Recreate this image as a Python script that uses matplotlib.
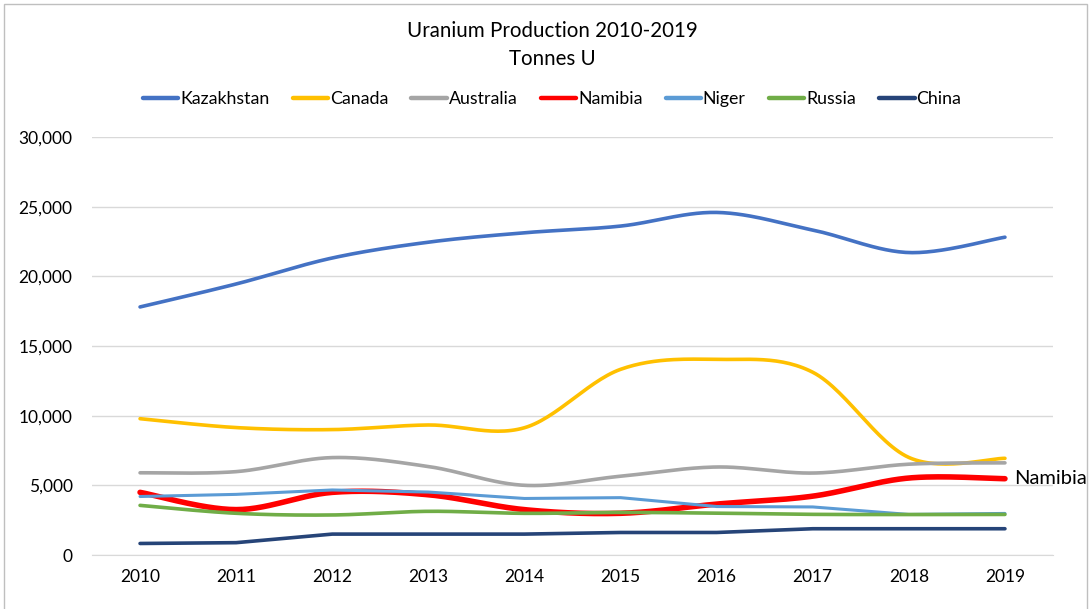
import matplotlib.pyplot as plt
import numpy as np
from matplotlib.patches import Rectangle

years = [2010, 2011, 2012, 2013, 2014, 2015, 2016, 2017, 2018, 2019]

kazakhstan = [17803, 19451, 21317, 22451, 23127, 23607, 24586, 23321, 21705, 22808]
canada = [9783, 9145, 8999, 9331, 9134, 13325, 14039, 13116, 7001, 6938]
australia = [5900, 5983, 6991, 6350, 5001, 5654, 6315, 5882, 6517, 6613]
namibia = [4496, 3258, 4495, 4323, 3255, 2993, 3654, 4224, 5525, 5476]
niger = [4198, 4351, 4667, 4518, 4057, 4116, 3479, 3449, 2911, 2983]
russia = [3562, 2993, 2872, 3135, 2990, 3055, 3004, 2917, 2904, 2911]
china = [827, 885, 1500, 1500, 1500, 1616, 1616, 1885, 1885, 1885]

series = [
    ("Kazakhstan", kazakhstan, "#4472C4", 2.6, True),
    ("Canada", canada, "#FFC000", 2.6, True),
    ("Australia", australia, "#A5A5A5", 2.6, True),
    ("Namibia", namibia, "#FF0000", 4.0, True),
    ("Niger", niger, "#5B9BD5", 2.2, False),
    ("Russia", russia, "#70AD47", 2.6, True),
    ("China", china, "#264478", 2.6, False),
]


def smooth(x, y, n=30):
    # Excel-style smoothed line: cubic Bezier segments, Catmull-Rom control points
    x = np.asarray(x, float)
    y = np.asarray(y, float)
    px = np.concatenate([[x[0]], x, [x[-1]]])
    py = np.concatenate([[y[0]], y, [y[-1]]])
    t = np.linspace(0, 1, n)
    xs, ys = [], []
    for i in range(len(x) - 1):
        p0 = np.array([px[i + 1], py[i + 1]])
        p3 = np.array([px[i + 2], py[i + 2]])
        p1 = p0 + (np.array([px[i + 2], py[i + 2]]) - np.array([px[i], py[i]])) / 6
        p2 = p3 - (np.array([px[i + 3], py[i + 3]]) - np.array([px[i + 1], py[i + 1]])) / 6
        b = ((1 - t) ** 3)[:, None] * p0 + (3 * (1 - t) ** 2 * t)[:, None] * p1 \
            + (3 * (1 - t) * t ** 2)[:, None] * p2 + (t ** 3)[:, None] * p3
        xs.append(b[:, 0])
        ys.append(b[:, 1])
    return np.concatenate(xs), np.concatenate(ys)


plt.rcParams['font.family'] = ['Lato', 'DejaVu Sans']

fig = plt.figure(figsize=(10.91, 6.09), dpi=100)
ax = fig.add_axes([92 / 1091, 54 / 609, 961 / 1091, 418 / 609])

xpos = np.arange(len(years))
for name, vals, color, lw, sm in series:
    if sm:
        sx, sy = smooth(xpos, vals)
    else:
        sx, sy = xpos, np.asarray(vals)
    ax.plot(sx, sy, color=color, lw=lw, label=name, solid_capstyle="round")

ax.text(xpos[-1] + 0.1, namibia[-1], "Namibia", fontsize=14.5, va="center", ha="left")

ax.set_xlim(-0.5, len(years) - 0.5)
ax.set_ylim(0, 30000)
ax.set_yticks(range(0, 30001, 5000))
ax.set_yticklabels([f"{v:,}" for v in range(0, 30001, 5000)])
ax.set_xticks(xpos)
ax.set_xticklabels([str(y) for y in years])
ax.tick_params(length=0, labelsize=12.5, colors="#000000")
ax.tick_params(axis="x", pad=10)
ax.tick_params(axis="y", pad=14)
ax.grid(axis="y", color="#D9D9D9", lw=1)
ax.set_axisbelow(True)
for s in ["top", "right", "left"]:
    ax.spines[s].set_visible(False)
ax.spines["bottom"].set_color("#D9D9D9")

fig.text(0.506, 1 - 31 / 609, "Uranium Production 2010-2019", ha="center", va="center", fontsize=14.8)
fig.text(0.506, 1 - 59 / 609, "Tonnes U", ha="center", va="center", fontsize=14.8)

leg = fig.legend(loc="center", bbox_to_anchor=(0.506, 1 - 99 / 609), ncol=7, frameon=False,
                 fontsize=12.8, handlelength=2.0, handletextpad=0.1, columnspacing=1.3)
for h in leg.get_lines():
    h.set_linewidth(3.2)

fig.patches.append(Rectangle((4 / 1091, -0.01), 1083 / 1091, 1 - 4 / 609 + 0.01, transform=fig.transFigure,
                             fill=False, edgecolor="#BFBFBF", lw=1))

fig.savefig("out.png", dpi=100)
